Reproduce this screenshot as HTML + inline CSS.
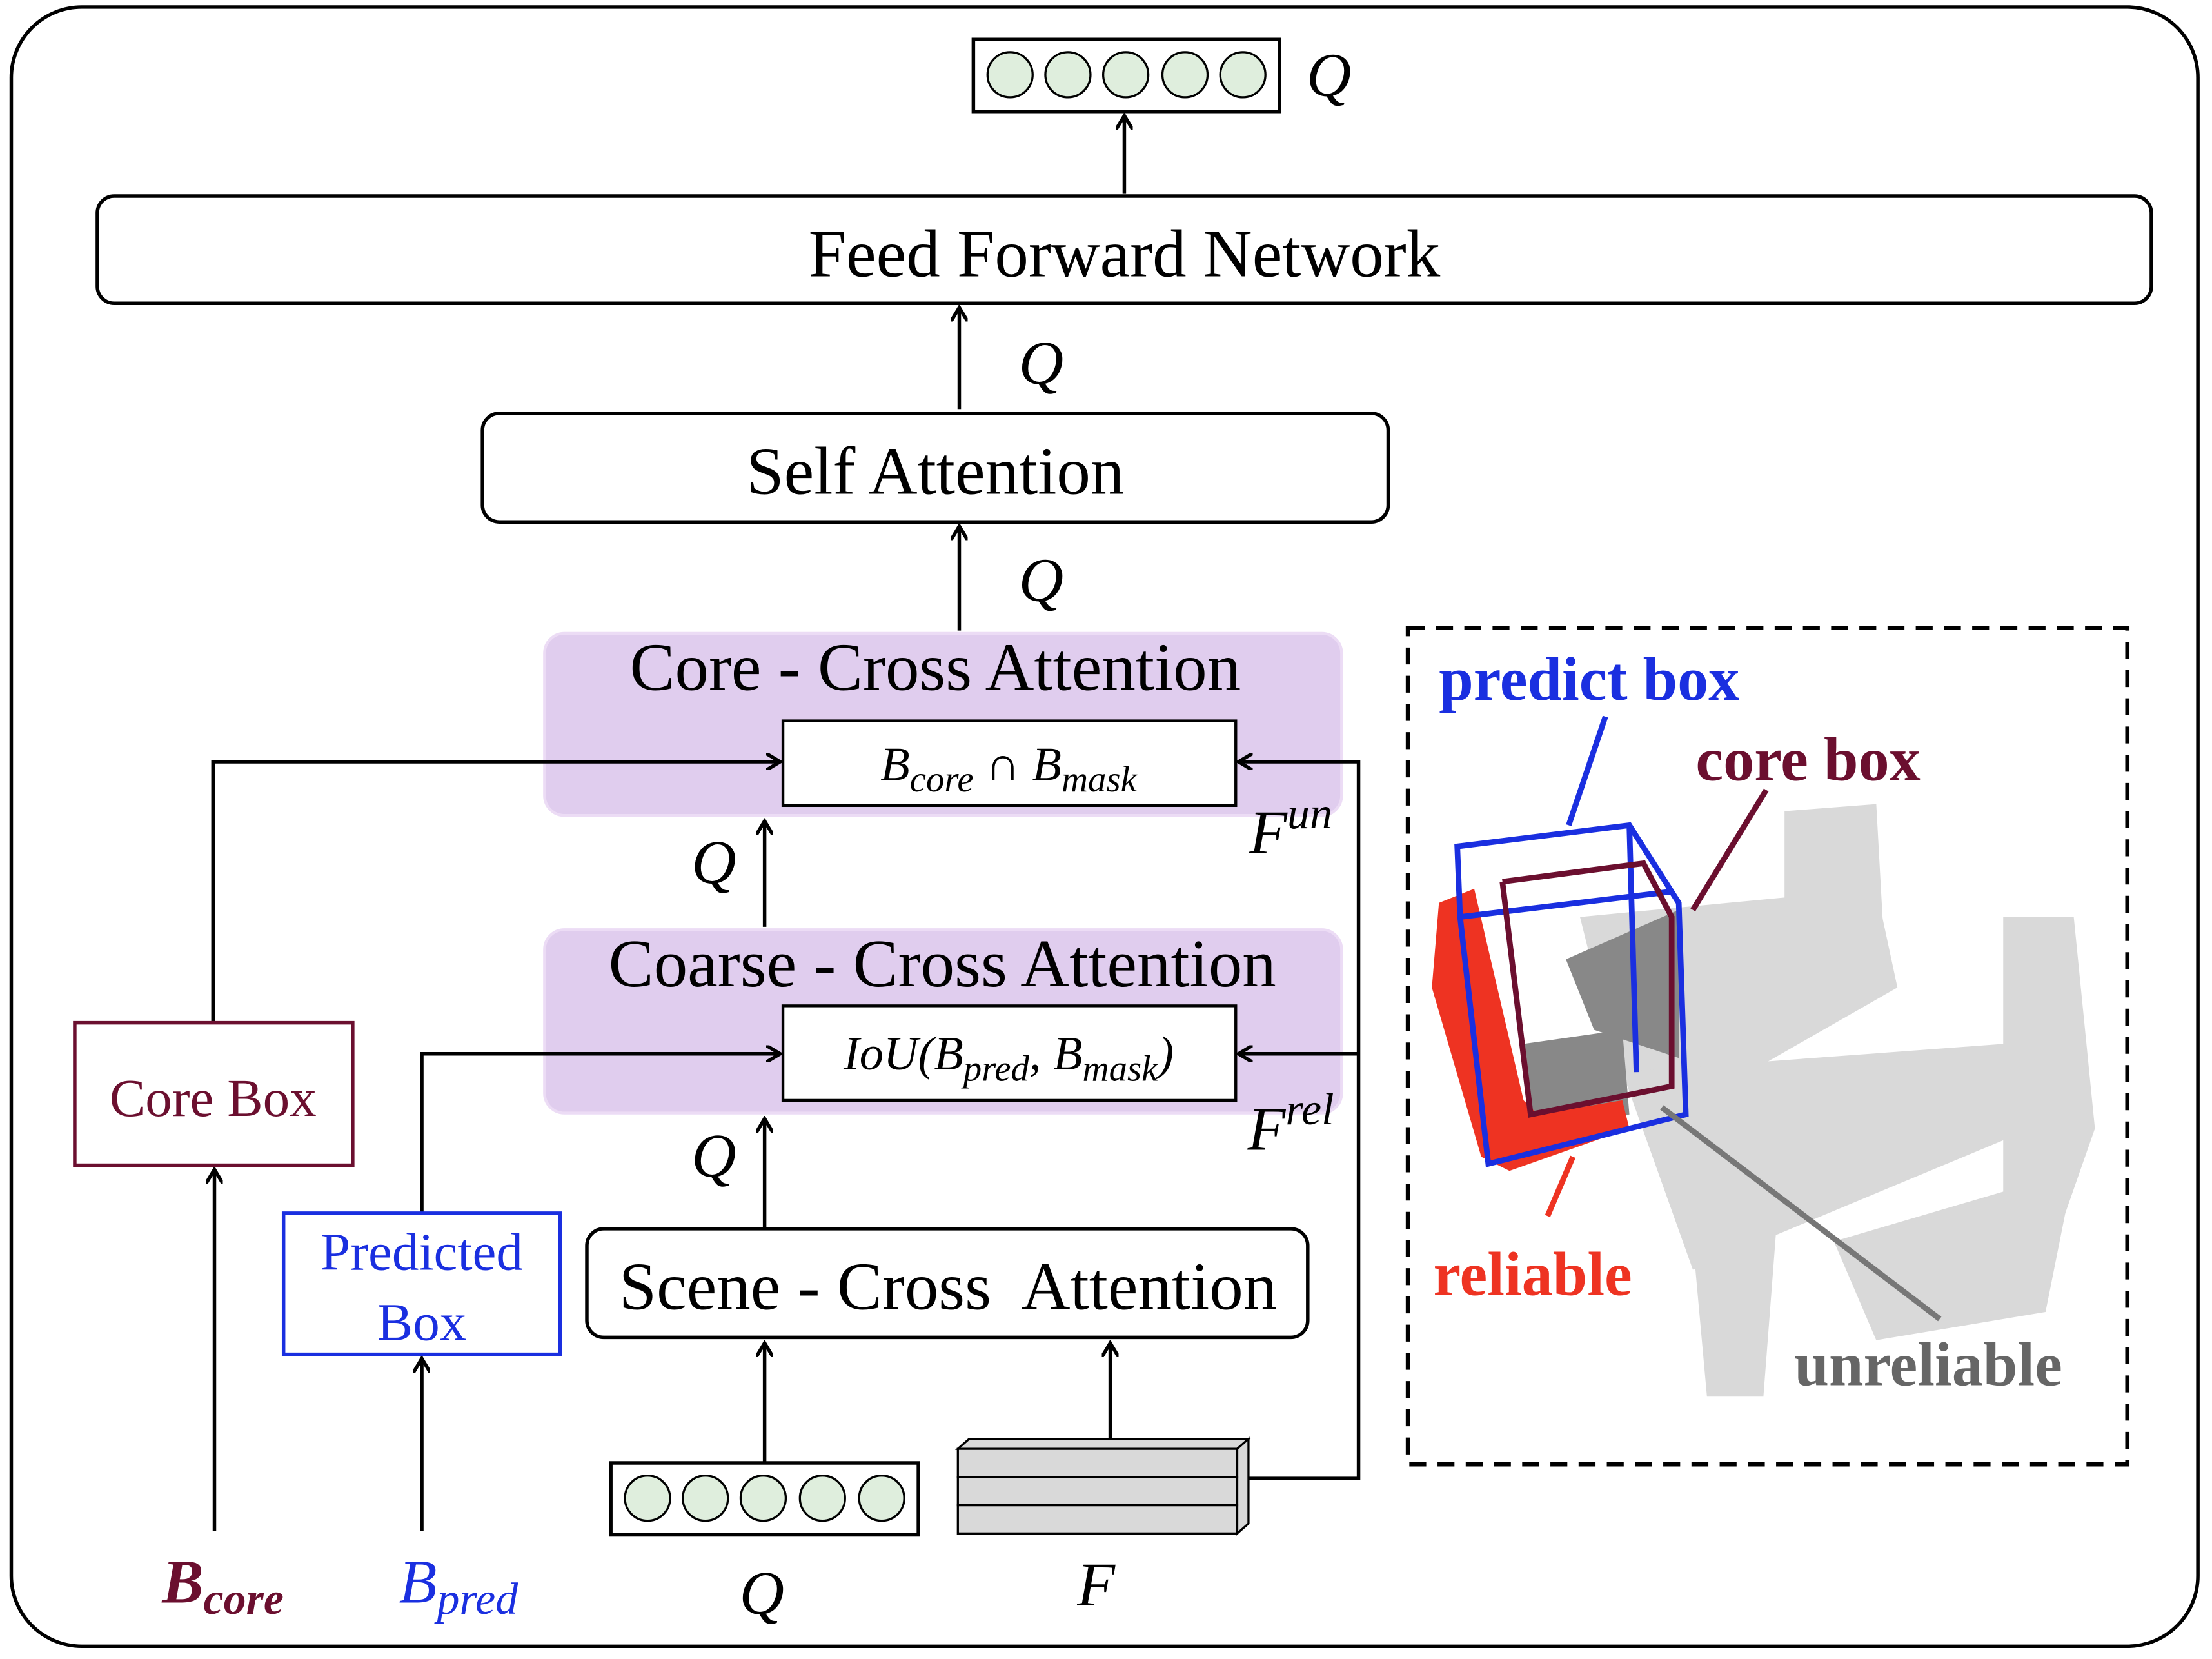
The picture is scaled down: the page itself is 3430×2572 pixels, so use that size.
<!DOCTYPE html>
<html><head><meta charset="utf-8"><style>html,body{margin:0;padding:0;background:#fff}svg{display:block}</style></head><body>
<svg width="3430" height="2572" viewBox="0 0 1568 1176" preserveAspectRatio="none" xmlns="http://www.w3.org/2000/svg" font-family="Liberation Serif, serif">
<defs><marker id="a" markerWidth="12" markerHeight="12" refX="10" refY="6" orient="auto" markerUnits="userSpaceOnUse"><path d="M0,0 L10,6 L0,12" fill="none" stroke="#000" stroke-width="2.5"/></marker></defs>
<rect x="8" y="5" width="1550" height="1162" rx="50" fill="#fff" stroke="#000" stroke-width="2.5"/>
<rect x="386" y="449" width="565" height="129" rx="14" fill="#e0cdee" stroke="#ecdcf5" stroke-width="2"/>
<rect x="386" y="659" width="565" height="130" rx="14" fill="#e0cdee" stroke="#ecdcf5" stroke-width="2"/>
<g stroke="#000" stroke-width="2.5" fill="none" marker-end="url(#a)">
<line x1="797" y1="137" x2="797" y2="82"/>
<line x1="680" y1="290" x2="680" y2="218"/>
<line x1="680" y1="447" x2="680" y2="373"/>
<line x1="542" y1="657" x2="542" y2="582"/>
<line x1="542" y1="870" x2="542" y2="793"/>
<line x1="542" y1="1036" x2="542" y2="952"/>
<line x1="787" y1="1020" x2="787" y2="952"/>
<line x1="152" y1="1085" x2="152" y2="829"/>
<line x1="299" y1="1085" x2="299" y2="963"/>
<polyline points="151,725 151,540 553,540"/>
<polyline points="299,860 299,747 553,747"/>
<polyline points="885,1048 963,1048 963,540 878,540"/>
<line x1="963" y1="747" x2="878" y2="747"/>
</g>
<rect x="690" y="28" width="217" height="51" fill="#fff" stroke="#000" stroke-width="2.5"/>
<g fill="#dfeedd" stroke="#000" stroke-width="1.5"><circle cx="716" cy="53" r="16"/><circle cx="757" cy="53" r="16"/><circle cx="798" cy="53" r="16"/><circle cx="840" cy="53" r="16"/><circle cx="881" cy="53" r="16"/>
<circle cx="459" cy="1062" r="16"/><circle cx="500" cy="1062" r="16"/><circle cx="541" cy="1062" r="16"/><circle cx="583" cy="1062" r="16"/><circle cx="625" cy="1062" r="16"/></g>
<rect x="433" y="1037" width="218" height="51" fill="none" stroke="#000" stroke-width="2.5"/>
<rect x="69" y="139" width="1456" height="76" rx="12" fill="#fff" stroke="#000" stroke-width="2.5"/>
<rect x="342" y="293" width="642" height="77" rx="12" fill="#fff" stroke="#000" stroke-width="2.5"/>
<rect x="555" y="511" width="321" height="60" fill="#fff" stroke="#000" stroke-width="2"/>
<rect x="555" y="713" width="321" height="67" fill="#fff" stroke="#000" stroke-width="2"/>
<rect x="416" y="871" width="511" height="77" rx="12" fill="#fff" stroke="#000" stroke-width="2.5"/>
<rect x="53" y="725" width="197" height="101" fill="#fff" stroke="#6b0f2f" stroke-width="2.5"/>
<rect x="201" y="860" width="196" height="100" fill="#fff" stroke="#1a2fe0" stroke-width="2.5"/>
<g stroke="#000" stroke-width="1.5" fill="#d9d9d9">
<polygon points="679,1027 687,1020 885,1020 877,1027"/><polygon points="877,1027 885,1020 885,1080 877,1087"/>
<rect x="679" y="1027" width="198" height="20"/><rect x="679" y="1047" width="198" height="20"/><rect x="679" y="1067" width="198" height="20"/></g>
<g font-size="48" text-anchor="middle">
<text x="797" y="196">Feed Forward Network</text>
<text x="663" y="350">Self Attention</text>
<text x="663" y="489">Core - Cross Attention</text>
<text x="668" y="699">Coarse - Cross Attention</text>
<text x="672" y="928" xml:space="preserve">Scene - Cross  Attention</text>
</g>
<g font-size="38" text-anchor="middle"><text x="151" y="791" fill="#6b0f2f">Core Box</text>
<text x="299" y="900" fill="#1a2fe0">Predicted</text><text x="299" y="950" fill="#1a2fe0">Box</text></g>
<g font-size="34" font-style="italic" text-anchor="middle">
<text x="715" y="553">B<tspan font-size="26" dy="8">core</tspan><tspan dy="-8"> ∩ B</tspan><tspan font-size="26" dy="8">mask</tspan></text>
<text x="715" y="758">IoU(B<tspan font-size="26" dy="8">pred</tspan><tspan dy="-8">, B</tspan><tspan font-size="26" dy="8">mask</tspan><tspan dy="-8">)</tspan></text>
</g>
<g font-size="44" font-style="italic" text-anchor="middle">
<text x="942" y="68">Q</text><text x="738" y="272">Q</text><text x="738" y="426">Q</text>
<text x="506" y="626">Q</text><text x="506" y="834">Q</text><text x="540" y="1144">Q</text>
<text x="777" y="1138">F</text>
<text x="915" y="605">F<tspan font-size="32" dy="-18">un</tspan></text>
<text x="915" y="815">F<tspan font-size="32" dy="-18">rel</tspan></text>
<text x="158" y="1136" fill="#6b0f2f" font-weight="bold">B<tspan font-size="32" dy="8">core</tspan></text>
<text x="325" y="1136" fill="#1a2fe0">B<tspan font-size="32" dy="8">pred</tspan></text>
</g>
<rect x="998" y="445" width="510" height="593" fill="none" stroke="#000" stroke-width="3" stroke-dasharray="12,8"/>
<g fill="#d9d9d9">
<path d="M1265,575 L1330,570 L1335,660 L1265,680 Z"/>
<path d="M1120,650 L1330,630 L1345,700 L1240,760 L1150,770 Z"/>
<path d="M1150,760 L1420,740 L1440,800 L1200,900 Z"/>
<path d="M1420,650 L1470,650 L1485,800 L1450,900 L1420,880 Z"/>
<path d="M1200,880 L1260,860 L1250,990 L1210,990 Z"/>
<path d="M1300,880 L1470,830 L1450,930 L1330,950 Z"/>
</g>
<path d="M1110,680 L1190,645 L1190,750 L1130,730 Z" fill="#888"/>
<path d="M1080,740 L1150,730 L1155,790 L1085,800 Z" fill="#888"/>
<path d="M1020,640 L1045,630 L1080,780 L1090,790 L1150,780 L1155,800 L1070,830 L1050,820 L1015,700 Z" fill="#ee3322"/>
<g fill="none" stroke-width="4">
<polyline points="1035,650 1033,600 1155,585 1190,640 1195,790 1055,825 1035,650 1185,632" stroke="#1a2fe0"/>
<line x1="1155" y1="585" x2="1160" y2="760" stroke="#1a2fe0"/>
<polyline points="1065,625 1165,612 1185,650 1185,770 1085,790 1065,625" stroke="#6b0f2f"/>
<line x1="1138" y1="508" x2="1112" y2="585" stroke="#1a2fe0"/>
<line x1="1252" y1="560" x2="1200" y2="645" stroke="#6b0f2f"/>
<line x1="1097" y1="862" x2="1115" y2="820" stroke="#ee3322"/>
<line x1="1375" y1="935" x2="1178" y2="785" stroke="#777"/>
</g>
<g font-weight="bold" font-size="44">
<text x="1020" y="496" fill="#1a2fe0">predict box</text>
<text x="1202" y="553" fill="#6b0f2f">core box</text>
<text x="1016" y="918" fill="#ee3322">reliable</text>
<text x="1272" y="982" fill="#666">unreliable</text>
</g>
</svg>
</body></html>
